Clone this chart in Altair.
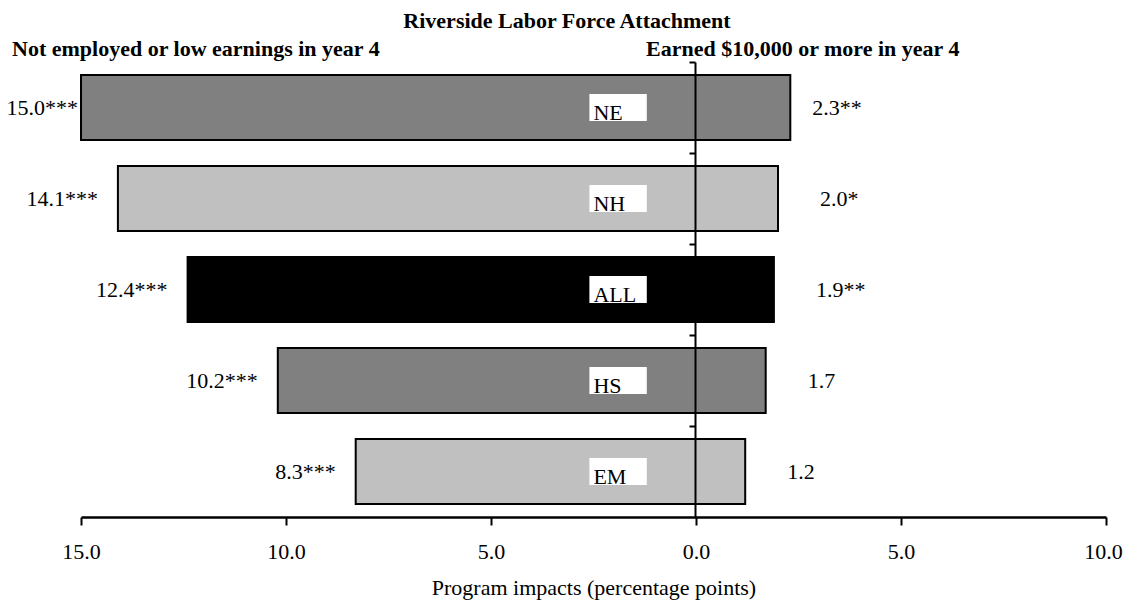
import altair as alt
import pandas as pd

# ---- data ----
groups = ["NE", "NH", "ALL", "HS", "EM"]
low_impact = [15.0, 14.1, 12.4, 10.2, 8.3]      # not employed / low earnings
low_sig = ["***", "***", "***", "***", "***"]
high_impact = [2.3, 2.0, 1.9, 1.7, 1.2]         # earned $10,000 or more
high_sig = ["**", "*", "**", "", ""]
fills = ["#808080", "#c0c0c0", "#000000", "#808080", "#c0c0c0"]
tick_values = [-15, -10, -5, 0, 5, 10]

title_text = "Riverside Labor Force Attachment"
left_head = "Not employed or low earnings in year 4"
right_head = "Earned $10,000 or more in year 4"
x_title = "Program impacts (percentage points)"

FONT = "Liberation Serif"
FS = 22

df = pd.DataFrame({
    "group": groups,
    "left": [-v for v in low_impact],
    "right": high_impact,
    "left_label": [f"{v:.1f}{s}" for v, s in zip(low_impact, low_sig)],
    "right_label": [f"{v:.1f}{s}" for v, s in zip(high_impact, high_sig)],
})

base = alt.Chart(df)

y_enc = alt.Y(
    "group:N",
    sort=groups,
    scale=alt.Scale(paddingInner=0, paddingOuter=0),
    axis=alt.Axis(
        labels=False, title=None, grid=False,
        domainColor="black", domainWidth=2,
        tickColor="black", tickWidth=2, tickSize=6,
        bandPosition=0, offset=-614, zindex=1,
    ),
)

x_enc = alt.X(
    "left:Q",
    scale=alt.Scale(domain=[-15, 10], nice=False, zero=False),
    axis=alt.Axis(
        values=tick_values,
        labelExpr="format(abs(datum.value), '.1f')",
        labelOffset={"expr": "datum.value == 10 ? -3 : 0"},
        title=x_title, grid=False,
        domainColor="black", domainWidth=2.5,
        tickColor="black", tickWidth=2, tickSize=8,
        labelFont=FONT, labelFontSize=FS, labelColor="black", labelPadding=16,
        labelFlush=False,
        titleFont=FONT, titleFontSize=FS, titleFontWeight="normal",
        titleColor="black", titlePadding=15,
    ),
)

bars = base.mark_bar(size=65, stroke="black", strokeWidth=2).encode(
    x=x_enc,
    x2="right:Q",
    y=y_enc,
    color=alt.Color("group:N", scale=alt.Scale(domain=groups, range=fills), legend=None),
)

boxes = base.mark_bar(size=27, color="white").encode(
    x=alt.datum(-2.6), x2=alt.datum(-1.2), y=alt.Y("group:N", sort=groups)
)

box_text = base.mark_text(
    align="left", baseline="alphabetic", dx=4, dy=12,
    font=FONT, fontSize=FS, color="black"
).encode(x=alt.datum(-2.6), y=alt.Y("group:N", sort=groups), text="group:N")

is_first = "datum.group == 'NE'"
not_first = "datum.group != 'NE'"

left_lab_a = base.transform_filter(is_first).mark_text(
    align="right", baseline="middle", dx=-3, font=FONT, fontSize=FS, color="black"
).encode(x="left:Q", y=alt.Y("group:N", sort=groups), text="left_label:N")
left_lab_b = base.transform_filter(not_first).mark_text(
    align="right", baseline="middle", dx=-20, font=FONT, fontSize=FS, color="black"
).encode(x="left:Q", y=alt.Y("group:N", sort=groups), text="left_label:N")

right_lab_a = base.transform_filter(is_first).mark_text(
    align="left", baseline="middle", dx=22, font=FONT, fontSize=FS, color="black"
).encode(x="right:Q", y=alt.Y("group:N", sort=groups), text="right_label:N")
right_lab_b = base.transform_filter(not_first).mark_text(
    align="left", baseline="middle", dx=42, font=FONT, fontSize=FS, color="black"
).encode(x="right:Q", y=alt.Y("group:N", sort=groups), text="right_label:N")

ann = pd.DataFrame({"t": [title_text]})
title_mark = alt.Chart(ann).mark_text(
    align="center", baseline="middle", font=FONT, fontSize=FS, fontWeight="bold", color="black"
).encode(text="t:N", x=alt.value(486), y=alt.value(-41))

ann_l = pd.DataFrame({"t": [left_head]})
left_mark = alt.Chart(ann_l).mark_text(
    align="left", baseline="middle", font=FONT, fontSize=FS, fontWeight="bold", color="black"
).encode(text="t:N", x=alt.value(-69), y=alt.value(-13))

ann_r = pd.DataFrame({"t": [right_head]})
right_mark = alt.Chart(ann_r).mark_text(
    align="left", baseline="middle", font=FONT, fontSize=FS, fontWeight="bold", color="black"
).encode(text="t:N", x=alt.value(565), y=alt.value(-13))

chart = alt.layer(
    bars, boxes, box_text, left_lab_a, left_lab_b, right_lab_a, right_lab_b,
    title_mark, left_mark, right_mark,
).properties(
    width=1025, height=455,
    padding={"left": 73, "top": 54, "right": 17, "bottom": 83},
    autosize=alt.AutoSizeParams(type="none"),
    background="white",
).configure_view(stroke=None)

chart.save("out.html", embed_options={"renderer": "svg", "actions": False})
